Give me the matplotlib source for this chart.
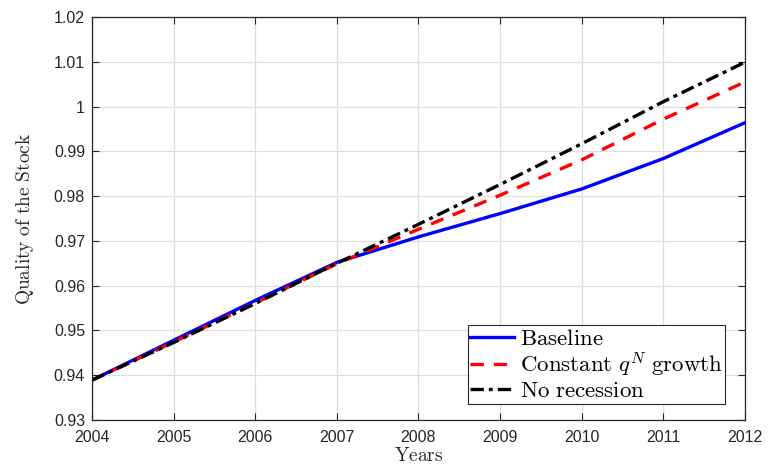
import matplotlib
matplotlib.use("Agg")
import matplotlib.pyplot as plt

plt.rcParams["mathtext.fontset"] = "cm"
plt.rcParams["font.family"] = ["Liberation Sans", "DejaVu Sans"]

years = [2004, 2005, 2006, 2007, 2008, 2009, 2010, 2011, 2012]
baseline = [0.9389, 0.9478, 0.9567, 0.9652, 0.9709, 0.9761, 0.9816, 0.9884, 0.9964]
constant_qn = [0.9389, 0.9474, 0.9561, 0.9649, 0.9726, 0.9802, 0.9881, 0.9972, 1.0055]
no_recession = [0.9389, 0.9473, 0.9560, 0.9650, 0.9737, 0.9826, 0.9917, 1.0011, 1.0099]

yticks = [0.93, 0.94, 0.95, 0.96, 0.97, 0.98, 0.99, 1.00, 1.01, 1.02]
ytick_labels = ["0.93", "0.94", "0.95", "0.96", "0.97", "0.98", "0.99", "1", "1.01", "1.02"]

fig = plt.figure(figsize=(7.69, 4.65), dpi=100)
ax = fig.add_axes([0.1196, 0.0968, 0.8492, 0.8666])

ax.plot(years, baseline, color="#0000ff", lw=2.4, ls="-", label=r"$\mathrm{Baseline}$")
ax.plot(years, constant_qn, color="#ff0000", lw=2.4, ls=(0, (4, 3)),
        label=r"$\mathrm{Constant}\ q^N\ \mathrm{growth}$")
ax.plot(years, no_recession, color="black", lw=2.4, ls=(0, (4, 1.5, 1.2, 1.5)),
        label=r"$\mathrm{No\ recession}$")

ax.set_xlim(2004, 2012)
ax.set_ylim(0.93, 1.02)
ax.set_xticks(years)
ax.set_xticklabels([str(y) for y in years])
ax.set_yticks(yticks)
ax.set_yticklabels(ytick_labels)
ax.grid(True, color="#dedede", lw=0.9)
ax.set_axisbelow(True)

ax.tick_params(direction="in", top=True, right=True, length=5, width=0.8,
               colors="#262626", labelsize=11.5, labelcolor="#262626")
ax.tick_params(axis="x", pad=7)
ax.tick_params(axis="y", pad=5)
for s in ax.spines.values():
    s.set_color("#262626")
    s.set_linewidth(0.9)

ax.set_xlabel(r"$\mathrm{Years}$", fontsize=14, color="#262626", labelpad=2)
ax.set_ylabel(r"$\mathrm{Quality\ of\ the\ Stock}$", fontsize=14, color="#262626", labelpad=13)

leg = ax.legend(loc="lower right", bbox_to_anchor=(0.97, 0.04), fontsize=16.5,
                frameon=True, fancybox=False, edgecolor="#262626", framealpha=1,
                handlelength=1.9, handletextpad=0.3, borderpad=0.1, labelspacing=0.0,
                borderaxespad=0)
leg.get_frame().set_linewidth(0.8)

fig.savefig("out.png", dpi=100)
